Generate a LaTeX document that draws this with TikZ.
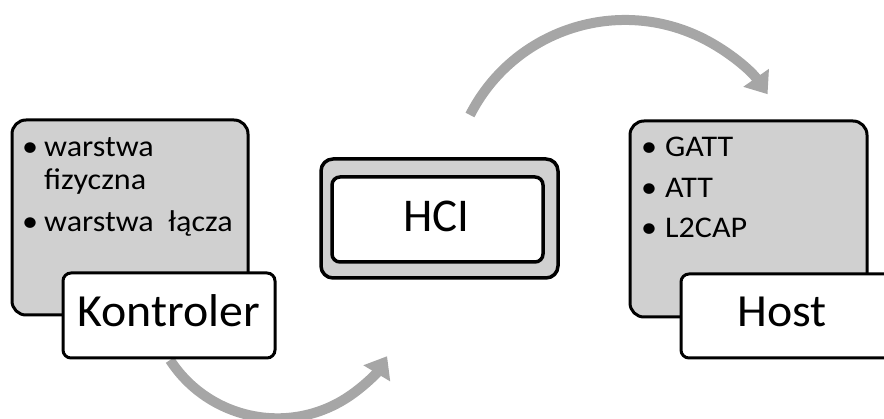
\documentclass[tikz,border=0pt]{standalone}
\usepackage{fontspec}
\setmainfont{Carlito}
\newfontfamily\itemfont{Carlito}[FakeStretch=1.07]
\newfontfamily\titlefont{Carlito}[FakeStretch=1.04]
\usetikzlibrary{arrows.meta}
\definecolor{boxgray}{HTML}{D0D0D0}
\definecolor{arrgray}{HTML}{A6A6A6}
\begin{document}
\begin{tikzpicture}[x=1pt,y=-1pt,
 graybox/.style={draw=black, fill=boxgray, line width=3pt, rounded corners=14pt, inner sep=0pt},
 whitebox/.style={draw=black, fill=white, line width=3pt, rounded corners=8pt, inner sep=0pt},
 titletext/.style={font=\titlefont\fontsize{46}{50}\selectfont, anchor=base, inner sep=0pt},
 arcarrow/.style={draw=arrgray, line width=10pt, -{Triangle[length=20pt,width=30pt]}},
 bullettext/.style={font=\itemfont\fontsize{30}{35}\selectfont, anchor=base west, inner sep=0pt}]

\useasboundingbox (0,0) rectangle (884,419);

% arcs
\coordinate (topstart) at (470,115);
\draw[arcarrow] (topstart) arc[start angle=-153, end angle=-35, radius=174];
\coordinate (botstart) at (170,360);
\draw[arcarrow] (botstart) arc[start angle=147, end angle=31, radius=128];

% left: Kontroler
\node[graybox, minimum width=236pt, minimum height=195pt] (lgray) at (130,217.5) {};
\node[bullettext] (lb1) at (22,157) {•};
\node[bullettext] (lt1) at (44,157) {warstwa};
\node[bullettext] (lt2) at (44,190) {fizyczna};
\node[bullettext] (lb2) at (22,232) {•};
\node[bullettext] (lt3) at (44,232) {warstwa~ łącza};
\node[whitebox, minimum width=212pt, minimum height=85pt] (kbox) at (169,315.5) {};
\node[titletext] (kontroler) at (169,327) {Kontroler};

% middle: HCI
\node[graybox, rounded corners=12pt, line width=3.5pt, minimum width=237pt, minimum height=119pt] (hciout) at (439.5,218.5) {};
\node[whitebox, line width=3.5pt, minimum width=211pt, minimum height=85pt] (hcibox) at (437.5,219.5) {};
\node[titletext, font=\fontsize{47}{50}\selectfont] (hci) at (436.5,232) {HCI};

% right: Host
\node[graybox, minimum width=237pt, minimum height=196pt] (rgray) at (748.5,219) {};
\node[bullettext] (rb1) at (641,157) {•};
\node[bullettext] (rt1) at (665,157) {GATT};
\node[bullettext] (rb2) at (641,198) {•};
\node[bullettext] (rt2) at (665,198) {ATT};
\node[bullettext] (rb3) at (641,238) {•};
\node[bullettext] (rt3) at (665,238) {L2CAP};
\node[whitebox, minimum width=212pt, minimum height=84pt] (hostbox) at (787,316) {};
\node[titletext] (host) at (782,327) {Host};
\end{tikzpicture}
\end{document}
